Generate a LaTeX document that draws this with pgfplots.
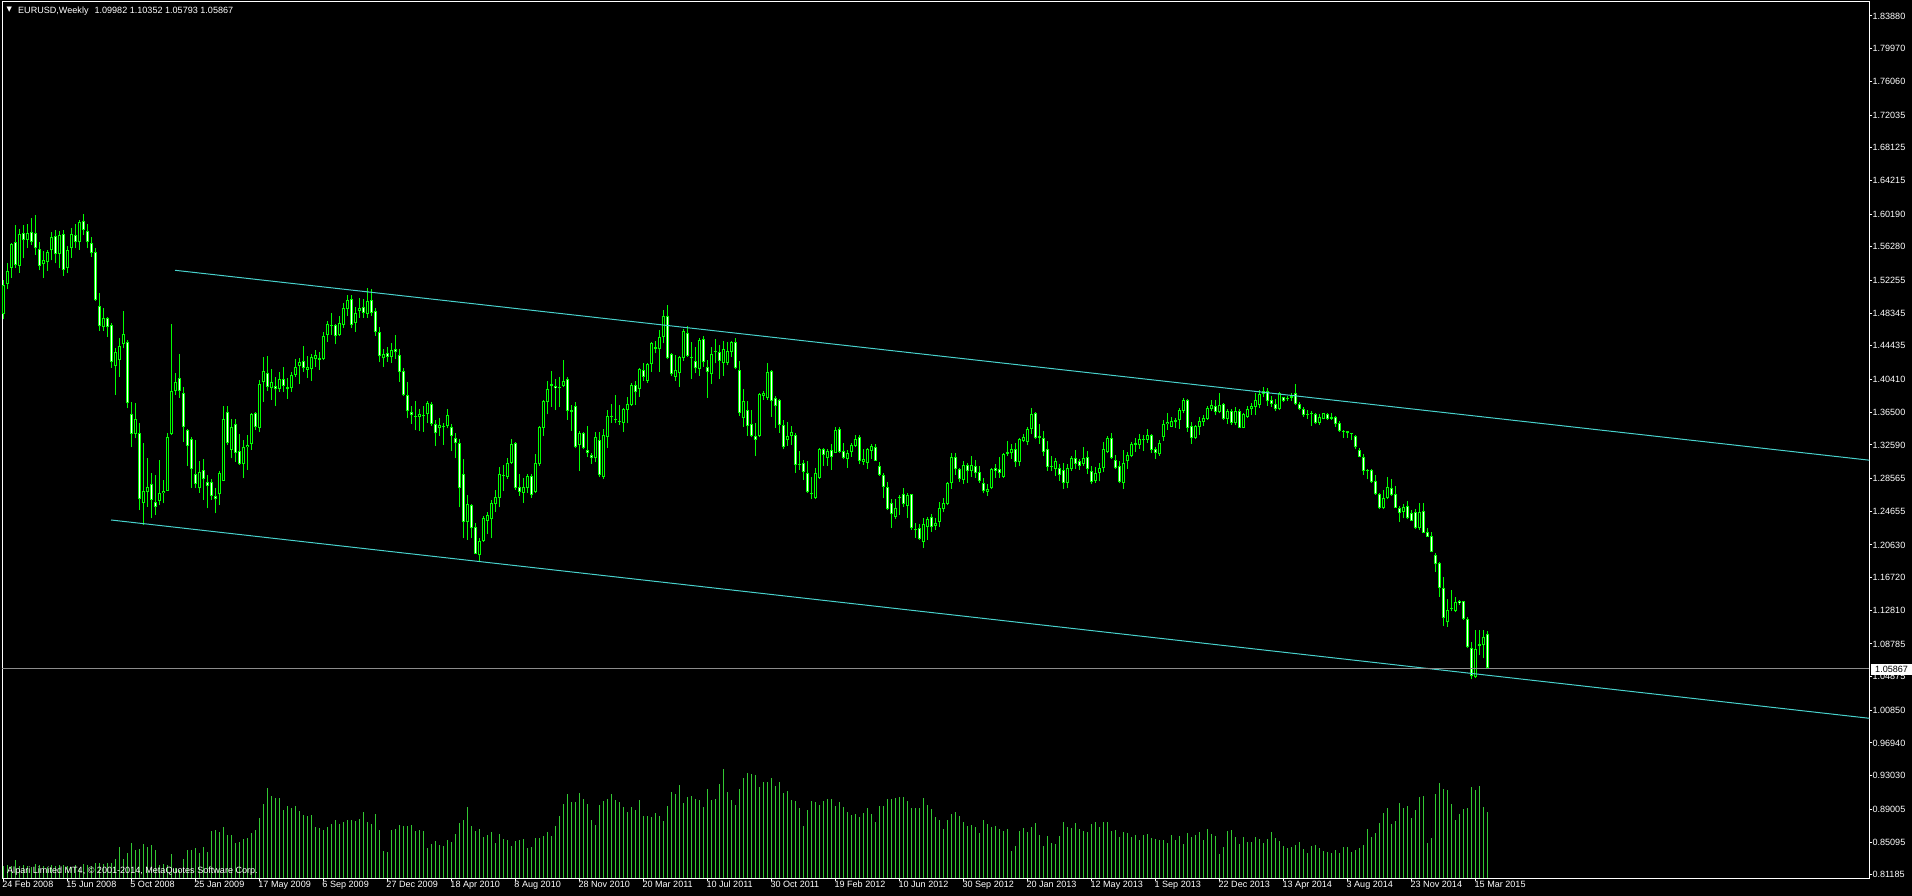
\documentclass[border=0pt]{standalone}
\usepackage{pgfplots}
\pgfplotsset{compat=1.18}
\usepackage{pgfplotstable}
\usepackage{fontspec}
\setmainfont{Liberation Sans}
\newfontfamily\dejavu{DejaVu Sans}
\definecolor{candle}{RGB}{0,255,0}
\definecolor{vol}{RGB}{50,200,50}
\definecolor{trend}{RGB}{72,209,204}
\definecolor{bidline}{RGB}{140,140,140}

\pgfplotstableread{
i O H L C V
0 1.4820 1.5231 1.4761 1.5171 12
1 1.5183 1.5438 1.5123 1.5339 13
2 1.5378 1.5669 1.5259 1.5657 12
3 1.5689 1.5889 1.5378 1.5414 18
4 1.5402 1.5841 1.5319 1.5777 12
5 1.5789 1.5889 1.5490 1.5709 13
6 1.5709 1.5897 1.5610 1.5789 12
7 1.5801 1.5976 1.5649 1.5689 11
8 1.5789 1.6008 1.5530 1.5610 14
9 1.5598 1.5681 1.5347 1.5402 13
10 1.5418 1.5578 1.5259 1.5470 12
11 1.5442 1.5590 1.5343 1.5562 11
12 1.5586 1.5801 1.5466 1.5741 13
13 1.5753 1.5829 1.5430 1.5538 12
14 1.5546 1.5821 1.5370 1.5765 13
15 1.5777 1.5829 1.5283 1.5355 13
16 1.5378 1.5634 1.5319 1.5586 12
17 1.5610 1.5857 1.5498 1.5777 11
18 1.5765 1.5897 1.5610 1.5689 13
19 1.5681 1.5948 1.5590 1.5921 10
20 1.5940 1.6016 1.5769 1.5829 14
21 1.5821 1.5897 1.5610 1.5689 13
22 1.5677 1.5749 1.5510 1.5550 12
23 1.5562 1.5610 1.4984 1.4988 15
24 1.4924 1.5071 1.4625 1.4677 15
25 1.4665 1.4892 1.4625 1.4773 14
26 1.4773 1.4784 1.4553 1.4665 15
27 1.4689 1.4713 1.4183 1.4254 15
28 1.4206 1.4414 1.3856 1.4366 19
29 1.4274 1.4533 1.4075 1.4446 31
30 1.4466 1.4860 1.4414 1.4589 19
31 1.4493 1.4513 1.3696 1.3756 25
32 1.3624 1.3768 1.3230 1.3393 35
33 1.3393 1.3756 1.3337 1.3565 28
34 1.3397 1.3517 1.2480 1.2608 29
35 1.2560 1.3278 1.2301 1.2712 34
36 1.2700 1.3098 1.2520 1.2759 31
37 1.2795 1.2919 1.2381 1.2600 33
38 1.2580 1.2899 1.2421 1.2520 28
39 1.2592 1.3078 1.2540 1.2680 13
40 1.2680 1.2839 1.2560 1.2708 14
41 1.2712 1.3397 1.2708 1.3349 13
42 1.3385 1.4701 1.3377 1.3903 24
43 1.3907 1.4115 1.3856 1.4007 10
44 1.4055 1.4346 1.3824 1.3903 8
45 1.3876 1.3947 1.3298 1.3469 19
46 1.3441 1.3445 1.3011 1.3250 28
47 1.3333 1.3357 1.2747 1.2967 28
48 1.2907 1.3317 1.2747 1.2795 30
49 1.2739 1.3066 1.2688 1.2931 25
50 1.2959 1.3086 1.2600 1.2847 31
51 1.2811 1.2899 1.2500 1.2771 26
52 1.2819 1.2851 1.2600 1.2648 47
53 1.2648 1.2739 1.2441 1.2608 48
54 1.2668 1.2947 1.2540 1.2927 46
55 1.2831 1.3724 1.2827 1.3569 51
56 1.3648 1.3724 1.3258 1.3278 43
57 1.3198 1.3569 1.3098 1.3469 43
58 1.3505 1.3569 1.3058 1.3166 35
59 1.3186 1.3385 1.3019 1.3026 36
60 1.3026 1.3317 1.2867 1.3230 39
61 1.3230 1.3377 1.2959 1.3258 40
62 1.3266 1.3636 1.3198 1.3628 45
63 1.3636 1.3656 1.3437 1.3477 48
64 1.3465 1.4035 1.3409 1.3983 60
65 1.4015 1.4314 1.3776 1.4147 74
66 1.4115 1.4318 1.3903 1.3955 90
67 1.3935 1.4167 1.3796 1.4007 82
68 1.3967 1.4075 1.3728 1.3923 80
69 1.3927 1.4127 1.3896 1.4043 80
70 1.4047 1.4191 1.3896 1.3967 68
71 1.3947 1.4063 1.3808 1.3923 72
72 1.3935 1.4135 1.3896 1.4091 70
73 1.4095 1.4286 1.4075 1.4187 72
74 1.4206 1.4298 1.3987 1.4246 67
75 1.4262 1.4442 1.4135 1.4175 63
76 1.4159 1.4322 1.4059 1.4191 62
77 1.4171 1.4342 1.4023 1.4306 63
78 1.4290 1.4394 1.4191 1.4334 51
79 1.4298 1.4366 1.4155 1.4278 50
80 1.4290 1.4613 1.4274 1.4557 48
81 1.4573 1.4745 1.4489 1.4701 51
82 1.4685 1.4832 1.4573 1.4677 54
83 1.4693 1.4705 1.4466 1.4557 58
84 1.4569 1.4800 1.4561 1.4713 54
85 1.4697 1.4952 1.4661 1.4892 56
86 1.4880 1.5051 1.4804 1.4988 58
87 1.5000 1.5051 1.4653 1.4697 58
88 1.4721 1.4912 1.4613 1.4832 57
89 1.4856 1.5012 1.4780 1.4896 59
90 1.4904 1.5004 1.4780 1.4840 66
91 1.4828 1.5131 1.4780 1.4976 56
92 1.4988 1.5123 1.4804 1.4840 54
93 1.4856 1.4892 1.4565 1.4605 64
94 1.4605 1.4665 1.4246 1.4318 48
95 1.4294 1.4406 1.4194 1.4342 27
96 1.4354 1.4434 1.4254 1.4314 26
97 1.4306 1.4473 1.4238 1.4390 48
98 1.4402 1.4573 1.4286 1.4366 49
99 1.4330 1.4406 1.4015 1.4127 53
100 1.4139 1.4175 1.3840 1.3852 52
101 1.3852 1.4011 1.3577 1.3660 52
102 1.3648 1.3728 1.3513 1.3612 53
103 1.3600 1.3784 1.3433 1.3596 47
104 1.3596 1.3684 1.3425 1.3624 48
105 1.3612 1.3724 1.3417 1.3608 47
106 1.3624 1.3784 1.3521 1.3760 30
107 1.3744 1.3768 1.3489 1.3513 34
108 1.3505 1.3557 1.3246 1.3397 37
109 1.3457 1.3577 1.3365 1.3493 33
110 1.3485 1.3525 1.3258 1.3477 32
111 1.3489 1.3684 1.3457 1.3612 38
112 1.3469 1.3505 1.3190 1.3369 36
113 1.3337 1.3397 1.3098 1.3278 44
114 1.3278 1.3329 1.2512 1.2740 55
115 1.2907 1.3090 1.2142 1.2341 58
116 1.2341 1.2660 1.2126 1.2556 71
117 1.2540 1.2556 1.2142 1.2261 52
118 1.2273 1.2329 1.1950 1.1958 47
119 1.1942 1.2142 1.1870 1.2110 49
120 1.2106 1.2413 1.2102 1.2381 41
121 1.2353 1.2453 1.2197 1.2421 43
122 1.2369 1.2600 1.2142 1.2560 46
123 1.2548 1.2716 1.2460 1.2632 35
124 1.2628 1.2995 1.2512 1.2915 44
125 1.2899 1.3015 1.2712 1.2891 39
126 1.2879 1.3098 1.2851 1.3038 38
127 1.3046 1.3329 1.3034 1.3266 32
128 1.3278 1.3290 1.2720 1.2740 37
129 1.2751 1.2907 1.2652 1.2700 38
130 1.2688 1.2859 1.2568 1.2751 39
131 1.2747 1.2911 1.2688 1.2883 30
132 1.2887 1.2911 1.2628 1.2664 31
133 1.2692 1.3146 1.2680 1.3038 40
134 1.3026 1.3489 1.3010 1.3477 40
135 1.3465 1.3796 1.3365 1.3784 42
136 1.3776 1.4023 1.3624 1.3923 46
137 1.3963 1.4143 1.3716 1.3987 42
138 1.3963 1.4043 1.3676 1.3935 52
139 1.3935 1.4071 1.3716 1.3939 62
140 1.3959 1.4274 1.3947 1.4019 74
141 1.4043 1.4071 1.3557 1.3668 84
142 1.3676 1.3736 1.3429 1.3656 76
143 1.3720 1.3772 1.3218 1.3230 76
144 1.3258 1.3425 1.2951 1.3401 85
145 1.3405 1.3417 1.3206 1.3218 79
146 1.3198 1.3485 1.3114 1.3166 74
147 1.3138 1.3158 1.3034 1.3106 58
148 1.3098 1.3409 1.3050 1.3349 53
149 1.3321 1.3417 1.2879 1.2895 73
150 1.2879 1.3445 1.2855 1.3373 77
151 1.3357 1.3676 1.3226 1.3608 79
152 1.3597 1.3748 1.3525 1.3600 84
153 1.3565 1.3852 1.3517 1.3561 78
154 1.3549 1.3732 1.3497 1.3537 76
155 1.3517 1.3704 1.3417 1.3684 71
156 1.3676 1.3828 1.3517 1.3744 66
157 1.3736 1.4003 1.3724 1.3971 71
158 1.3979 1.4023 1.3736 1.3887 68
159 1.3931 1.4179 1.3836 1.4163 78
160 1.4159 1.4234 1.4027 1.4075 62
161 1.4027 1.4242 1.4003 1.4222 62
162 1.4222 1.4493 1.4135 1.4474 61
163 1.4434 1.4505 1.4354 1.4410 65
164 1.4402 1.4633 1.4135 1.4545 62
165 1.4545 1.4872 1.4474 1.4796 57
166 1.4796 1.4932 1.4282 1.4294 72
167 1.4342 1.4362 1.4087 1.4103 86
168 1.4075 1.4334 1.4023 1.4151 84
169 1.4115 1.4322 1.3955 1.4306 93
170 1.4302 1.4641 1.4266 1.4621 75
171 1.4593 1.4681 1.4314 1.4326 81
172 1.4306 1.4493 1.4051 1.4294 82
173 1.4258 1.4434 1.4115 1.4175 79
174 1.4167 1.4541 1.4083 1.4513 78
175 1.4521 1.4565 1.4194 1.4246 71
176 1.4187 1.4274 1.3824 1.4135 89
177 1.4103 1.4434 1.3987 1.4342 78
178 1.4374 1.4521 1.4234 1.4382 79
179 1.4366 1.4454 1.4043 1.4266 94
180 1.4234 1.4505 1.4083 1.4402 109
181 1.4242 1.4493 1.4210 1.4382 86
182 1.4374 1.4501 1.4314 1.4485 78
183 1.4485 1.4537 1.4163 1.4183 73
184 1.4151 1.4262 1.3605 1.3636 89
185 1.3577 1.3927 1.3477 1.3780 100
186 1.3672 1.3784 1.3369 1.3485 105
187 1.3505 1.3676 1.3349 1.3369 104
188 1.3365 1.3517 1.3130 1.3321 103
189 1.3365 1.3884 1.3357 1.3864 91
190 1.3848 1.3903 1.3796 1.3876 96
191 1.3824 1.4238 1.3796 1.4131 96
192 1.4143 1.4155 1.3597 1.3784 100
193 1.3816 1.3844 1.3465 1.3728 92
194 1.3792 1.3804 1.3405 1.3501 96
195 1.3493 1.3557 1.3206 1.3230 85
196 1.3314 1.3533 1.3246 1.3369 87
197 1.3369 1.3485 1.3258 1.3409 78
198 1.3373 1.3397 1.2927 1.3022 77
199 1.3022 1.3186 1.2959 1.3030 70
200 1.3038 1.3078 1.2839 1.2939 52
201 1.2923 1.3062 1.2688 1.2696 68
202 1.2684 1.2871 1.2608 1.2668 77
203 1.2620 1.2979 1.2616 1.2923 76
204 1.2867 1.3222 1.2855 1.3206 73
205 1.3214 1.3222 1.3007 1.3142 77
206 1.3098 1.3214 1.3011 1.3186 79
207 1.3198 1.3270 1.2959 1.3118 79
208 1.3166 1.3473 1.3162 1.3437 72
209 1.3445 1.3473 1.3166 1.3178 76
210 1.3182 1.3278 1.3086 1.3106 71
211 1.3094 1.3198 1.2987 1.3162 66
212 1.3170 1.3278 1.3118 1.3258 63
213 1.3250 1.3377 1.3234 1.3329 64
214 1.3353 1.3373 1.3027 1.3070 61
215 1.3058 1.3210 1.3019 1.3086 65
216 1.3046 1.3218 1.2971 1.3206 70
217 1.3190 1.3270 1.3086 1.3246 64
218 1.3230 1.3266 1.3066 1.3070 56
219 1.3007 1.3054 1.2887 1.2899 72
220 1.2895 1.2927 1.2620 1.2759 72
221 1.2751 1.2811 1.2480 1.2492 79
222 1.2560 1.2608 1.2269 1.2429 79
223 1.2401 1.2612 1.2377 1.2500 80
224 1.2624 1.2660 1.2421 1.2640 81
225 1.2676 1.2739 1.2512 1.2552 81
226 1.2532 1.2680 1.2389 1.2664 77
227 1.2668 1.2672 1.2241 1.2269 70
228 1.2249 1.2329 1.2150 1.2237 70
229 1.2261 1.2313 1.2122 1.2134 70
230 1.2102 1.2381 1.2030 1.2309 80
231 1.2281 1.2397 1.2122 1.2373 73
232 1.2393 1.2433 1.2221 1.2273 69
233 1.2289 1.2381 1.2241 1.2325 61
234 1.2341 1.2576 1.2281 1.2500 58
235 1.2496 1.2620 1.2453 1.2560 49
236 1.2556 1.2815 1.2536 1.2799 58
237 1.2799 1.3158 1.2735 1.3118 64
238 1.3110 1.3158 1.2899 1.2967 66
239 1.2971 1.2979 1.2815 1.2847 62
240 1.2839 1.3062 1.2791 1.3023 56
241 1.3015 1.3039 1.2807 1.2943 52
242 1.2943 1.3126 1.2879 1.3015 53
243 1.3011 1.3078 1.2867 1.2919 51
244 1.2931 1.3007 1.2807 1.2823 45
245 1.2799 1.2863 1.2680 1.2704 58
246 1.2700 1.2791 1.2652 1.2727 54
247 1.2739 1.2983 1.2727 1.2975 51
248 1.2983 1.3031 1.2863 1.2951 52
249 1.2967 1.3114 1.2867 1.2919 49
250 1.2875 1.3162 1.2867 1.3150 47
251 1.3146 1.3306 1.3130 1.3170 49
252 1.3158 1.3266 1.3094 1.3210 27
253 1.3206 1.3282 1.2991 1.3050 32
254 1.3058 1.3341 1.3003 1.3329 47
255 1.3310 1.3389 1.3290 1.3349 50
256 1.3298 1.3469 1.3254 1.3449 46
257 1.3453 1.3696 1.3389 1.3628 51
258 1.3644 1.3652 1.3333 1.3345 55
259 1.3345 1.3513 1.3274 1.3365 43
260 1.3337 1.3421 1.3126 1.3178 32
261 1.3206 1.3310 1.2947 1.2999 42
262 1.2995 1.3126 1.2951 1.3003 35
263 1.2975 1.3106 1.2887 1.3066 34
264 1.2983 1.3027 1.2831 1.2903 42
265 1.2959 1.3042 1.2735 1.2807 56
266 1.2799 1.3031 1.2739 1.2979 51
267 1.2967 1.3122 1.2951 1.3102 50
268 1.3098 1.3198 1.2967 1.3034 55
269 1.3062 1.3090 1.2959 1.3011 49
270 1.3031 1.3230 1.3007 1.3098 47
271 1.3110 1.3186 1.2915 1.2975 46
272 1.2951 1.3011 1.2787 1.2819 54
273 1.2827 1.2991 1.2807 1.2919 56
274 1.2919 1.3042 1.2823 1.2979 51
275 1.2979 1.3290 1.2935 1.3206 56
276 1.3170 1.3361 1.3158 1.3337 56
277 1.3337 1.3397 1.3086 1.3106 47
278 1.3078 1.3134 1.2971 1.2979 48
279 1.3003 1.3062 1.2799 1.2815 41
280 1.2799 1.3198 1.2735 1.3046 46
281 1.3062 1.3178 1.2975 1.3134 45
282 1.3122 1.3294 1.3110 1.3266 41
283 1.3258 1.3337 1.3178 1.3278 43
284 1.3258 1.3385 1.3210 1.3326 38
285 1.3322 1.3373 1.3190 1.3314 43
286 1.3318 1.3445 1.3286 1.3373 44
287 1.3373 1.3389 1.3158 1.3202 40
288 1.3206 1.3238 1.3094 1.3166 39
289 1.3146 1.3318 1.3130 1.3278 38
290 1.3349 1.3553 1.3310 1.3505 38
291 1.3505 1.3636 1.3441 1.3533 35
292 1.3477 1.3589 1.3469 1.3545 43
293 1.3529 1.3585 1.3465 1.3553 38
294 1.3553 1.3704 1.3453 1.3676 42
295 1.3668 1.3816 1.3636 1.3796 34
296 1.3796 1.3804 1.3417 1.3465 45
297 1.3485 1.3533 1.3270 1.3345 41
298 1.3345 1.3493 1.3329 1.3485 43
299 1.3477 1.3596 1.3377 1.3545 46
300 1.3533 1.3612 1.3485 1.3581 38
301 1.3569 1.3724 1.3557 1.3696 49
302 1.3684 1.3796 1.3668 1.3732 44
303 1.3724 1.3796 1.3612 1.3656 42
304 1.3648 1.3883 1.3636 1.3732 24
305 1.3748 1.3764 1.3557 1.3569 31
306 1.3573 1.3684 1.3509 1.3664 47
307 1.3664 1.3692 1.3501 1.3525 48
308 1.3517 1.3716 1.3493 1.3664 41
309 1.3664 1.3684 1.3457 1.3465 34
310 1.3465 1.3636 1.3457 1.3624 41
311 1.3596 1.3724 1.3584 1.3684 36
312 1.3684 1.3764 1.3620 1.3724 36
313 1.3716 1.3875 1.3616 1.3796 41
314 1.3736 1.3915 1.3696 1.3868 39
315 1.3868 1.3951 1.3828 1.3899 35
316 1.3899 1.3943 1.3724 1.3780 39
317 1.3796 1.3844 1.3716 1.3744 46
318 1.3748 1.3804 1.3660 1.3684 40
319 1.3684 1.3891 1.3676 1.3875 37
320 1.3828 1.3836 1.3776 1.3788 32
321 1.3804 1.3844 1.3780 1.3824 30
322 1.3824 1.3883 1.3784 1.3848 31
323 1.3875 1.3987 1.3732 1.3744 33
324 1.3748 1.3768 1.3672 1.3684 36
325 1.3684 1.3716 1.3596 1.3612 29
326 1.3628 1.3676 1.3573 1.3616 25
327 1.3624 1.3668 1.3489 1.3628 32
328 1.3628 1.3636 1.3505 1.3525 33
329 1.3521 1.3628 1.3497 1.3589 30
330 1.3573 1.3644 1.3565 1.3636 27
331 1.3628 1.3644 1.3557 1.3573 26
332 1.3573 1.3636 1.3557 1.3589 25
333 1.3589 1.3604 1.3477 1.3505 28
334 1.3517 1.3545 1.3413 1.3421 25
335 1.3425 1.3437 1.3345 1.3417 31
336 1.3421 1.3429 1.3345 1.3397 31
337 1.3397 1.3405 1.3317 1.3389 26
338 1.3369 1.3377 1.3206 1.3230 28
339 1.3198 1.3218 1.3110 1.3118 30
340 1.3110 1.3150 1.2903 1.2947 33
341 1.2943 1.2975 1.2847 1.2959 49
342 1.2959 1.2975 1.2807 1.2811 41
343 1.2823 1.2899 1.2660 1.2668 45
344 1.2668 1.2688 1.2488 1.2500 55
345 1.2500 1.2719 1.2492 1.2620 65
346 1.2628 1.2875 1.2608 1.2751 70
347 1.2743 1.2855 1.2652 1.2660 54
348 1.2668 1.2767 1.2504 1.2508 57
349 1.2504 1.2528 1.2341 1.2440 75
350 1.2456 1.2552 1.2381 1.2516 70
351 1.2528 1.2592 1.2369 1.2381 72
352 1.2440 1.2484 1.2345 1.2349 60
353 1.2452 1.2496 1.2253 1.2269 68
354 1.2261 1.2560 1.2241 1.2456 81
355 1.2464 1.2560 1.2201 1.2209 82
356 1.2217 1.2261 1.2153 1.2161 35
357 1.2169 1.2217 1.1974 1.1982 40
358 1.1942 1.1962 1.1739 1.1831 84
359 1.1846 1.1862 1.1444 1.1552 95
360 1.1544 1.1683 1.1093 1.1193 89
361 1.1137 1.1412 1.1085 1.1284 88
362 1.1296 1.1524 1.1272 1.1312 74
363 1.1272 1.1436 1.1256 1.1380 58
364 1.1392 1.1404 1.1344 1.1364 64
365 1.1392 1.1396 1.1169 1.1177 69
366 1.1173 1.1197 1.0826 1.0838 70
367 1.0826 1.0902 1.0455 1.0491 91
368 1.0479 1.1045 1.0467 1.0814 88
369 1.0858 1.1045 1.0746 1.0874 92
370 1.0870 1.1045 1.0706 1.0966 71
371 1.09982 1.10352 1.05793 1.05867 66
}\ohlc

\pgfplotsset{
  mtframe/.style={
    at={(2bp,18bp)}, anchor=south west,
    scale only axis, width=1867.3bp, height=876bp,
    xmin=-0.375, xmax=466.375,
  },
  cerr/.style={draw=none, mark=none, forget plot,
    error bars/.cd, y dir=plus, y explicit, error mark=none,
    error bar style={draw=#1, solid, line cap=butt}},
}

\begin{document}
\begin{tikzpicture}
\fill[black] (0,0) rectangle (1912bp,896bp);
% volumes
\begin{axis}[mtframe, ymin=0, ymax=876, axis lines=none]
\addplot[ycomb, draw=vol, line width=1bp, mark=none] table[x=i, y=V]{\ohlc};
\end{axis}
% prices
\begin{axis}[mtframe,
  ymin=0.80795, ymax=1.85554,
  axis line style={white, line width=1bp},
  ytick pos=right, xtick pos=bottom, tick align=outside,
  major tick length=3bp, tick style={white, line width=1bp},
  ytick={1.83880,1.79970,1.76060,1.72035,1.68125,1.64215,1.60190,1.56280,1.52255,1.48345,1.44435,1.40410,1.36500,1.32590,1.28565,1.24655,1.20630,1.16720,1.12810,1.08785,1.04875,1.00850,0.96940,0.93030,0.89005,0.85095,0.81185},
  yticklabels={1.83880,1.79970,1.76060,1.72035,1.68125,1.64215,1.60190,1.56280,1.52255,1.48345,1.44435,1.40410,1.36500,1.32590,1.28565,1.24655,1.20630,1.16720,1.12810,1.08785,1.04875,1.00850,0.96940,0.93030,0.89005,0.85095,0.81185},
  xtick={0,16,...,368},
  xticklabels={24 Feb 2008,15 Jun 2008,5 Oct 2008,25 Jan 2009,17 May 2009,6 Sep 2009,27 Dec 2009,18 Apr 2010,8 Aug 2010,28 Nov 2010,20 Mar 2011,10 Jul 2011,30 Oct 2011,19 Feb 2012,10 Jun 2012,30 Sep 2012,20 Jan 2013,12 May 2013,1 Sep 2013,22 Dec 2013,13 Apr 2014,3 Aug 2014,23 Nov 2014,15 Mar 2015},
  tick label style={text=white, font=\fontsize{9.1}{10}\selectfont, inner sep=0pt},
  yticklabel style={anchor=west},
  xticklabel style={anchor=north west, xshift=-1.3bp},
]
% wicks
\addplot[cerr=candle, error bar style={line width=1bp}]
  table[x=i, y=L, y error expr=\thisrow{H}-\thisrow{L}]{\ohlc};
% body outline
\addplot[cerr=candle, error bar style={line width=3bp}]
  table[x=i, y expr={min(\thisrow{O},\thisrow{C})},
        y error expr={max(abs(\thisrow{O}-\thisrow{C}),0.0012)}]{\ohlc};
% bull body interior (black)
\addplot[cerr=black, error bar style={line width=1bp}]
  table[x expr={\thisrow{C}>\thisrow{O} ? \thisrow{i} : nan},
        y expr={min(\thisrow{O},\thisrow{C})+0.0012},
        y error expr={max(abs(\thisrow{O}-\thisrow{C})-0.0024,0)}]{\ohlc};
% bear body interior (white)
\addplot[cerr=white, error bar style={line width=1bp}]
  table[x expr={\thisrow{C}>\thisrow{O} ? nan : \thisrow{i}},
        y expr={min(\thisrow{O},\thisrow{C})+0.0012},
        y error expr={max(abs(\thisrow{O}-\thisrow{C})-0.0024,0)}]{\ohlc};
% channel lines
\addplot[trend, line width=1bp, mark=none] coordinates {(42.875,1.53469) (466.375,1.30759)};
\addplot[trend, line width=1bp, mark=none] coordinates {(26.875,1.23608) (466.375,0.99894)};
% bid line
\addplot[bidline, line width=1bp, mark=none] coordinates {(-0.375,1.05867) (466.375,1.05867)};
\end{axis}
% texts
\node[anchor=base west, inner sep=0pt, text=white, font=\dejavu\fontsize{7}{8}\selectfont] at (6.5bp,884bp) {▼};
\node[anchor=base west, inner sep=0pt, text=white, font=\fontsize{9.1}{10}\selectfont] at (18bp,882bp) {EURUSD,Weekly\hspace{6bp}1.09982 1.10352 1.05793 1.05867};
\node[anchor=base west, inner sep=0pt, text=white, font=\fontsize{9.1}{10}\selectfont] at (7bp,22.5bp) {Alpari Limited MT4, © 2001-2014, MetaQuotes Software Corp.};
\node[anchor=west, fill=white, text=black, inner xsep=4bp, inner ysep=0pt, minimum height=10.6bp, font=\fontsize{9.1}{10}\selectfont] at (1871bp,226.7bp) {1.05867};
\pgfresetboundingbox
\path (0,0) rectangle (1912bp,896bp);
\end{tikzpicture}
\end{document}
